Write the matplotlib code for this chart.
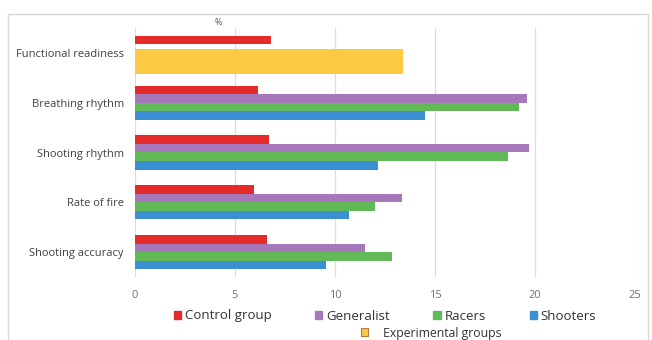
import matplotlib.pyplot as plt
import numpy as np
from matplotlib.patches import Patch, Rectangle

plt.rcParams['font.family'] = ['Open Sans', 'DejaVu Sans']

categories = ['Functional readiness', 'Breathing rhythm', 'Shooting rhythm',
              'Rate of fire', 'Shooting accuracy']
control = [6.8, 6.15, 6.7, 5.95, 6.6]
generalist = [None, 19.6, 19.7, 13.35, 11.5]
racers = [None, 19.2, 18.65, 12.0, 12.85]
shooters = [None, 14.5, 12.15, 10.7, 9.55]
experimental = 13.4   # functional readiness, all experimental groups

c_red = '#e52a2a'
c_purple = '#a678bb'
c_green = '#62b957'
c_blue = '#3b8fd3'
c_yellow = '#fcc945'

fig = plt.figure(figsize=(6.52, 3.40), dpi=100)
ax = fig.add_axes([135/652, 1 - 277/340, 500/652, 249/340])

h = 0.172
y = np.arange(len(categories))
for i in y:
    ax.barh(i - 1.5*h, control[i], height=h, color=c_red)
    if generalist[i] is None:
        ax.barh(i + h, experimental, height=3*h, color=c_yellow)
        continue
    ax.barh(i - 0.5*h, generalist[i], height=h, color=c_purple)
    ax.barh(i + 0.5*h, racers[i], height=h, color=c_green)
    ax.barh(i + 1.5*h, shooters[i], height=h, color=c_blue)

ax.set_xlim(0, 25)
ax.set_ylim(4.5, -0.5)
ax.set_xticks([0, 5, 10, 15, 20, 25])
ax.set_yticks(y)
ax.set_yticklabels(categories)
ax.tick_params(length=0, labelsize=8, labelcolor='#404040')
ax.tick_params(axis='x', pad=9, labelcolor='#707070')
ax.tick_params(axis='y', pad=8)
ax.grid(axis='x', color='#dcdcdc', linewidth=0.9)
ax.set_axisbelow(True)
for s in ax.spines.values():
    s.set_visible(False)

ax.text(4.15, -0.53, '%', fontsize=6.5, color='#555555', ha='center', va='bottom')

# outer frame of the chart
fig.patches.append(Rectangle((8/652, -0.05), 640/652, 1 - 14/340 + 0.05,
                             transform=fig.transFigure, fill=False,
                             edgecolor='#d8d8d8', linewidth=1))

handles = [Patch(color=c_red, label='Control group'),
           Patch(color=c_purple, label='Generalist'),
           Patch(color=c_green, label='Racers'),
           Patch(color=c_blue, label='Shooters')]
fig.legend(handles=handles, loc='center', bbox_to_anchor=(385/652, 1 - 316/340),
           ncol=4, frameon=False, fontsize=9.5, handlelength=0.55, handleheight=0.55,
           handletextpad=0.3, columnspacing=3.3, labelcolor='#333333')
fig.legend(handles=[Patch(facecolor=c_yellow, edgecolor='#b07a40', linewidth=0.8,
                          label='Experimental groups')],
           loc='center', bbox_to_anchor=(431/652, 1 - 333/340), frameon=False,
           fontsize=8.8, handlelength=0.6, handleheight=0.6, handletextpad=1.2,
           labelcolor='#333333')

fig.savefig('out.png', dpi=100)
